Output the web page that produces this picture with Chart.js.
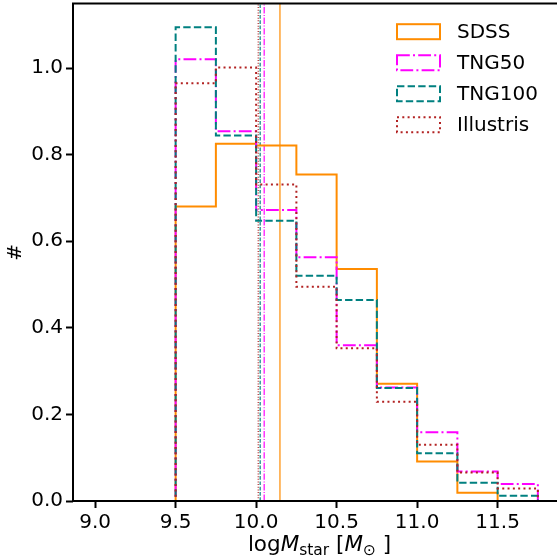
<!DOCTYPE html>
<html>
<head>
<meta charset="utf-8">
<script src="https://cdn.jsdelivr.net/npm/chart.js@4.4.1/dist/chart.umd.min.js"></script>
<style>
  html, body { margin: 0; padding: 0; background: #fff; overflow: hidden; }
  #wrap { width: 580px; height: 558px; }
</style>
</head>
<body>
<div id="wrap"><canvas id="myChart" width="580" height="558"></canvas></div>
<script>
// bin edges of the histograms (log stellar mass)
const edges = [9.0, 9.25, 9.5, 9.75, 10.0, 10.25, 10.5, 10.75, 11.0, 11.25, 11.5, 11.75];

// normalised counts per bin
const sdss = [0, 0, 0.680, 0.825, 0.821, 0.754, 0.536, 0.271, 0.091, 0.019, 0];
const tng50 = [0, 0, 1.020, 0.854, 0.672, 0.563, 0.360, 0.262, 0.159, 0.068, 0.039];
const tng100 = [0, 0, 1.094, 0.844, 0.647, 0.520, 0.464, 0.261, 0.110, 0.042, 0.012];
const illustris = [0, 0, 0.965, 1.001, 0.731, 0.495, 0.353, 0.229, 0.130, 0.066, 0.029];

// medians (vertical lines)
const medians = { SDSS: 10.148, TNG50: 10.050, TNG100: 10.025, Illustris: 10.013 };

const xTicks = [9.0, 9.5, 10.0, 10.5, 11.0, 11.5];
const yTicks = [0.0, 0.2, 0.4, 0.6, 0.8, 1.0];
const xLimits = [8.8625, 11.8875];
const yLimits = [0, 1.149];

const yTitle = '#';
const xTitleParts = [
  { text: 'log', italic: false, sub: false },
  { text: 'M', italic: true, sub: false },
  { text: 'star', italic: false, sub: true },
  { text: ' [', italic: false, sub: false },
  { text: 'M', italic: true, sub: false },
  { text: '\u2299', italic: false, sub: true },
  { text: ' ]', italic: false, sub: false },
];

const FONT = 'DejaVu Sans';
const FS = 20;

const main = () => {
  Chart.defaults.font.family = FONT;
  Chart.defaults.font.size = FS;
  Chart.defaults.color = '#000';

  const histPoints = (counts) =>
    edges.map((e, i) => ({ x: e, y: i < counts.length ? counts[i] : 0 }));
  const vline = (m) => [{ x: m, y: yLimits[0] }, { x: m, y: yLimits[1] }];

  const series = [
    { label: 'SDSS', color: '#ff8c00', dash: [], vdash: [], counts: sdss, order: 4 },
    { label: 'TNG50', color: '#ff00ff', dash: [12.8, 3.2, 2, 3.2], vdash: [6.4, 1.6, 1, 1.6], counts: tng50, order: 3 },
    { label: 'TNG100', color: '#008080', dash: [7.4, 3.2], vdash: [3.7, 1.6], counts: tng100, order: 2 },
    { label: 'Illustris', color: '#b22222', dash: [2, 3.3], vdash: [1, 1.65], counts: illustris, order: 1 },
  ];

  const datasets = [];
  series.forEach((s) => {
    datasets.push({
      label: s.label,
      data: histPoints(s.counts),
      borderColor: s.color,
      borderWidth: 2,
      borderDash: s.dash,
      stepped: true,
      pointRadius: 0,
      fill: false,
      order: s.order,
      inLegend: true,
    });
  });
  series.forEach((s) => {
    datasets.push({
      label: s.label + ' median',
      data: vline(medians[s.label]),
      borderColor: s.color,
      borderWidth: 1.2,
      borderDash: s.vdash,
      pointRadius: 0,
      fill: false,
      order: s.order + 4,
    });
  });

  const frame = {
    id: 'frame',
    afterDraw(chart) {
      const { ctx, chartArea: a } = chart;
      ctx.save();
      ctx.strokeStyle = '#000';
      ctx.lineWidth = 2;
      ctx.strokeRect(a.left, a.top, a.right - a.left, a.bottom - a.top);
      ctx.restore();
    },
  };

  const boxLegend = {
    id: 'boxLegend',
    afterDraw(chart) {
      const { ctx } = chart;
      const items = chart.data.datasets.filter((d) => d.inLegend);
      ctx.save();
      ctx.font = FS + 'px "' + FONT + '"';
      ctx.textBaseline = 'middle';
      ctx.fillStyle = '#000';
      items.forEach((d, i) => {
        const cy = 31.7 + i * 31;
        ctx.strokeStyle = d.borderColor;
        ctx.lineWidth = 2;
        ctx.setLineDash(d.borderDash);
        ctx.strokeRect(397, cy - 7.5, 43, 15);
        ctx.setLineDash([]);
        ctx.fillText(d.label, 457, cy + 1);
      });
      ctx.restore();
    },
  };

  const xTitle = {
    id: 'xTitle',
    afterDraw(chart) {
      const { ctx, chartArea: a } = chart;
      const size = 21.5;
      const subSize = size * 0.72;
      const fontOf = (p) => (p.italic ? 'italic ' : '') + (p.sub ? subSize : size) + 'px "' + FONT + '"';
      ctx.save();
      let total = 0;
      xTitleParts.forEach((p) => { ctx.font = fontOf(p); total += ctx.measureText(p.text).width; });
      let x = (a.left + a.right) / 2 - total / 2 + 3;
      const base = 551;
      ctx.fillStyle = '#000';
      ctx.textBaseline = 'alphabetic';
      xTitleParts.forEach((p) => {
        ctx.font = fontOf(p);
        ctx.fillText(p.text, x, base + (p.sub ? 3.5 : 0));
        x += ctx.measureText(p.text).width;
      });
      ctx.restore();
    },
  };

  const tickStyle = {
    display: true,
    drawOnChartArea: false,
    drawTicks: true,
    tickLength: 7,
    tickWidth: 2,
    tickColor: '#000',
  };

  const config = {
    type: 'line',
    data: { datasets },
    options: {
      responsive: false,
      animation: false,
      layout: { padding: { top: 3.5, right: 20, left: 0, bottom: 0 } },
      plugins: {
        legend: { display: false },
        tooltip: { enabled: false },
      },
      scales: {
        x: {
          type: 'linear',
          min: xLimits[0],
          max: xLimits[1],
          grid: tickStyle,
          border: { display: false },
          afterBuildTicks: (scale) => { scale.ticks = xTicks.map((v) => ({ value: v })); },
          afterFit: (scale) => {
            scale.height = 57;
            scale.paddingLeft = 0;
            scale.paddingRight = 0;
          },
          ticks: {
            padding: 3,
            maxRotation: 0,
            callback: (v) => Number(v).toFixed(1),
          },
        },
        y: {
          type: 'linear',
          min: yLimits[0],
          max: yLimits[1],
          grid: tickStyle,
          border: { display: false },
          afterBuildTicks: (scale) => { scale.ticks = yTicks.map((v) => ({ value: v })); },
          afterFit: (scale) => {
            scale.width = 73;
            scale.paddingTop = 0;
            scale.paddingBottom = 0;
          },
          title: { display: true, text: yTitle, padding: { top: 4, bottom: 0 } },
          ticks: {
            padding: 3,
            callback: (v) => Number(v).toFixed(1),
          },
        },
      },
    },
    plugins: [frame, boxLegend, xTitle],
  };

  let myChart = new Chart(document.getElementById('myChart').getContext('2d'), config);
};

main();
</script>
</body>
</html>
